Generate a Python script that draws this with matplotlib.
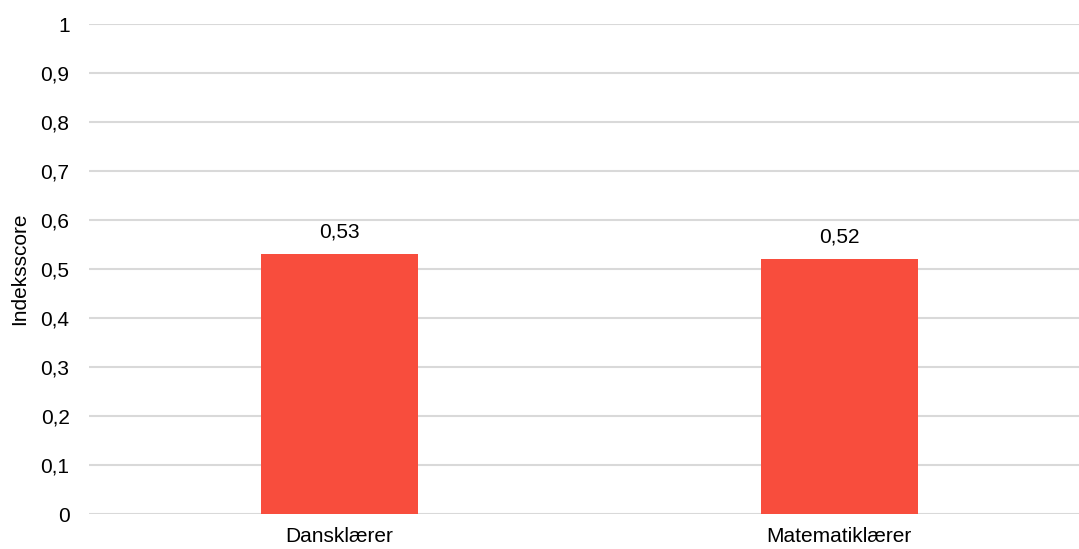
import matplotlib
matplotlib.use("Agg")
import matplotlib.pyplot as plt
from matplotlib.ticker import MultipleLocator, FuncFormatter

categories = ["Dansklærer", "Matematiklærer"]
values = [0.53, 0.52]
value_labels = ["0,53", "0,52"]
y_label = "Indeksscore"

plt.rcParams['font.family'] = ['Liberation Sans', 'DejaVu Sans']

W, H = 1079, 549
fig = plt.figure(figsize=(W / 100, H / 100), dpi=100)
left = 89 / W
bottom = (H - 514) / H
top = (H - 24) / H
ax = fig.add_axes([left, bottom, 1000 / W, top - bottom])

x = list(range(len(categories)))
bars = ax.bar(x, values, width=0.314, color="#F84D3D", zorder=3)
ax.set_xlim(-0.5, len(categories) - 0.5)
ax.set_ylim(0, 1)
ax.yaxis.set_major_locator(MultipleLocator(0.1))
ax.yaxis.set_major_formatter(FuncFormatter(lambda v, p: ("%g" % round(v, 1)).replace(".", ",")))
ax.set_xticks(x)
ax.set_xticklabels(categories)
ax.grid(axis="y", color="#D9D9D9", linewidth=1.5, zorder=0)
ax.grid(axis="x", visible=False)
for s in ax.spines.values():
    s.set_visible(False)
ax.tick_params(axis="both", length=0, labelsize=15, colors="#000000")
ax.tick_params(axis="y", pad=14)
ax.tick_params(axis="x", pad=9)
ax.set_ylabel(y_label, fontsize=15)
ax.yaxis.set_label_coords(-60 / 1000, 0.5)

for xi, v, lab in zip(x, values, value_labels):
    ax.annotate(lab, (xi, v), xytext=(0, 16), textcoords="offset points",
                ha="center", va="center", fontsize=15)

fig.savefig("out.png", dpi=100)
